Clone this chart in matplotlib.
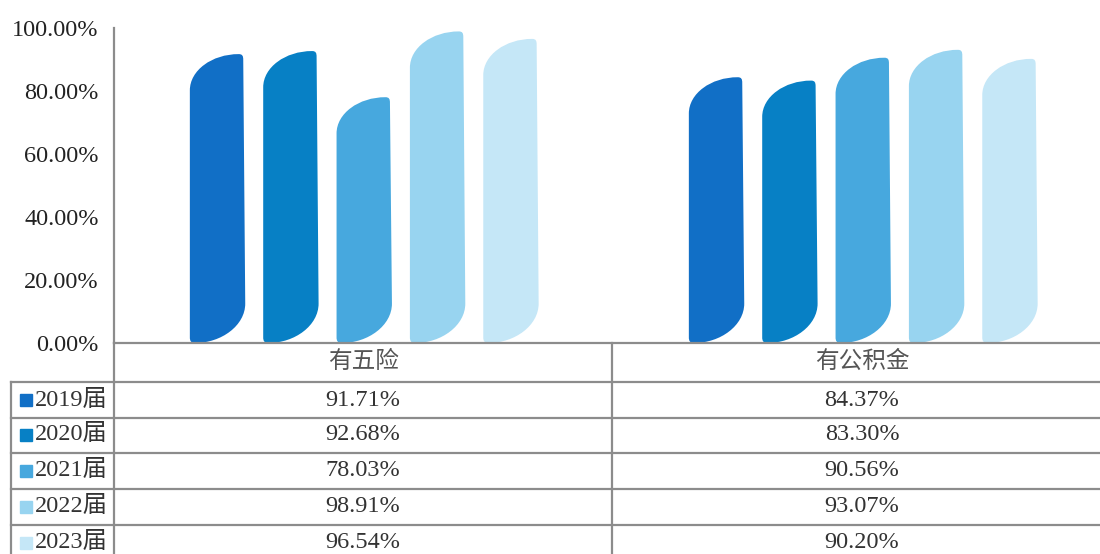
import matplotlib
matplotlib.use("Agg")
import matplotlib.pyplot as plt
from matplotlib.path import Path
from matplotlib.patches import PathPatch

plt.rcParams['font.family'] = ['Liberation Serif', 'Noto Sans CJK SC']

# data
categories = ['有五险', '有公积金']
years = ['2019届', '2020届', '2021届', '2022届', '2023届']
values = {
    '2019届': [91.71, 84.37],
    '2020届': [92.68, 83.30],
    '2021届': [78.03, 90.56],
    '2022届': [98.91, 93.07],
    '2023届': [96.54, 90.20],
}
colors = ['#116FC6', '#0780C5', '#47A8DE', '#98D4F0', '#C5E7F7']
yticks = [0, 20, 40, 60, 80, 100]

W, H = 1100, 554
fig = plt.figure(figsize=(11, 5.54), dpi=100)

ax_l, ax_r, ax_top, ax_bot = 114, 1112, 28, 343
ax = fig.add_axes([ax_l / W, (H - ax_bot) / H, (ax_r - ax_l) / W, (ax_bot - ax_top) / H])
ax.set_xlim(-0.5, 1.5)
ax.set_ylim(0, 100)


def leaf_bar(cx, w, h, color):
    # bar with a big curved top-left and bottom-right, small round on the other corners
    xl, xr = cx - w / 2, cx + w / 2
    dt, db, r, rx = 11.5, 12.5, 1.2, 0.005
    k = 0.55
    verts = [
        (xl, r * 1.5),
        (xl, h - dt),
        (xl, h - dt * (1 - k)), (xl + (w - rx * 2) * (1 - k), h), (xr - rx * 2, h),
        (xr - rx * 0.5, h), (xr - 0.001, h - r * 0.5), (xr - 0.001, h - r * 1.5),
        (xr + 0.003, db),
        (xr + 0.003, db * (1 - k)), (xl + rx * 2 + (w - rx * 2) * k, 0), (xl + rx * 2, 0),
        (xl + rx * 0.5, 0), (xl, r * 0.5), (xl, r * 1.5),
        (xl, r * 1.5),
    ]
    codes = [Path.MOVETO, Path.LINETO,
             Path.CURVE4, Path.CURVE4, Path.CURVE4,
             Path.CURVE4, Path.CURVE4, Path.CURVE4,
             Path.LINETO,
             Path.CURVE4, Path.CURVE4, Path.CURVE4,
             Path.CURVE4, Path.CURVE4, Path.CURVE4,
             Path.CLOSEPOLY]
    ax.add_patch(PathPatch(Path(verts, codes), facecolor=color, edgecolor='none'))


bw = 0.108
step = 0.147
for i, y in enumerate(years):
    for j in range(len(categories)):
        leaf_bar(j + (i - 2) * step, bw, values[y][j], colors[i])

ax.set_yticks(yticks)
ax.set_yticklabels(['%.2f%%' % t for t in yticks], fontsize=17.5, color='#222222')
ax.tick_params(axis='y', length=0, pad=11)
ax.set_xticks([])
for s in ['top', 'right']:
    ax.spines[s].set_visible(False)
ax.spines['left'].set_color('#8c8c8c')
ax.spines['left'].set_linewidth(1.6)
ax.spines['bottom'].set_color('#8c8c8c')
ax.spines['bottom'].set_linewidth(1.6)

# data table under the chart (pixel coordinates)
tb = fig.add_axes([0, 0, 1, 1], facecolor='none')
tb.set_xlim(0, W)
tb.set_ylim(H, 0)
tb.axis('off')

line_kw = dict(color='#8c8c8c', lw=1.6)
rows = [382, 418, 453, 489, 525]
for ry in rows:
    tb.plot([11, 1112], [ry, ry], **line_kw)
tb.plot([11, 11], [382, H], **line_kw)
tb.plot([114, 114], [343, H], **line_kw)
tb.plot([612, 612], [343, H], **line_kw)

col_x = [363, 862]
for j, c in enumerate(categories):
    tb.text(col_x[j], 362, c, ha='center', va='center', fontsize=17, color='#555555',
            fontweight='light')

row_y = [400, 435, 471, 507, 543]
for i, y in enumerate(years):
    tb.plot([26], [row_y[i]], marker='s', markersize=9, color=colors[i], linestyle='none')
    tb.text(35, row_y[i], y, ha='left', va='center', fontsize=17.5, color='#333333')
    for j in range(len(categories)):
        tb.text(col_x[j], row_y[i], '%.2f%%' % values[y][j], ha='center', va='center',
                fontsize=17.5, color='#333333')

fig.savefig('out.png', dpi=100)
